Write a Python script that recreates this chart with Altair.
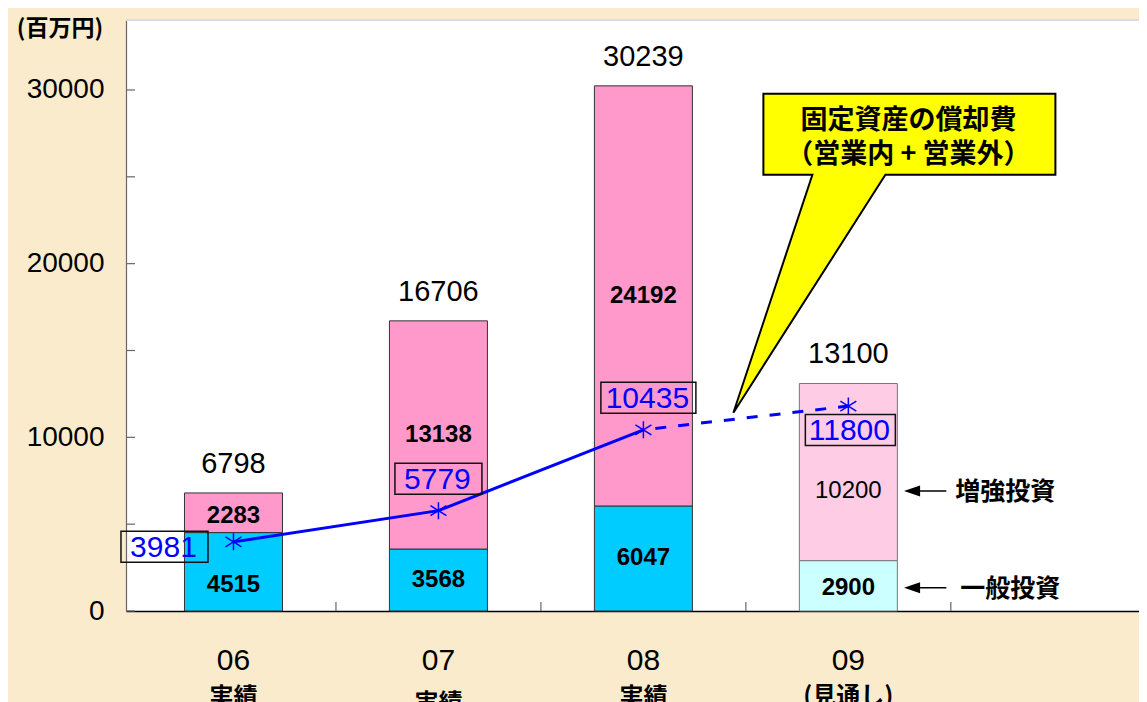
import altair as alt
import pandas as pd

# ---------------- data ----------------
years = ["06", "07", "08", "09"]
sub_labels = ["実績", "実績", "実績", "(見通し)"]
general = [4515, 3568, 6047, 2900]        # 一般投資
enhance = [2283, 13138, 24192, 10200]     # 増強投資
totals = [6798, 16706, 30239, 13100]
deprec = [3981, 5779, 10435, 11800]       # 固定資産の償却費
y_tick_values = [0, 5000, 10000, 15000, 20000, 25000, 30000]
y_label_values = [0, 10000, 20000, 30000]
x_boundaries = [1, 2, 3, 4]

# ---------------- styles ----------------
gen_colors = ["#00CCFF", "#00CCFF", "#00CCFF", "#CCFFFF"]
enh_colors = ["#FF99CC", "#FF99CC", "#FF99CC", "#FFCCE6"]
bar_strokes = ["#333333", "#333333", "#333333", "#777777"]
gen_dy = [13, 0, 0, 2]
enh_dy = [3, 0, 0, 19]
dep_dx = [-69, 0, 5, 2]
dep_dy = [5, -32, -32, 24]
dep_box_w = [87, 87, 95, 90]
sub_dy = [0, 6, 0, -1]

W, H = 1013, 591
BAND_PX = 207
XMAX = W / BAND_PX
YMAX = 34030
BLUE = "#0000FF"
NUM_FONT = "Liberation Sans"
CJK_FONT = "Noto Sans CJK JP"

df = pd.DataFrame({
    "idx": list(range(len(years))),
    "year": years,
    "sub": sub_labels,
    "general": general,
    "enhance": enhance,
    "total": totals,
    "deprec": deprec,
    "gcol": gen_colors,
    "ecol": enh_colors,
    "scol": bar_strokes,
})
df["pos"] = df["idx"] + 0.5
df["zero"] = 0
df["gmid"] = df["general"] / 2
df["emid"] = df["general"] + df["enhance"] / 2

xs = alt.Scale(domain=[0, XMAX], nice=False, zero=False)
ys = alt.Scale(domain=[0, YMAX], nice=False)
X = alt.X("pos:Q", scale=xs, axis=alt.Axis(labels=False, ticks=False, grid=False, title=None,
                                              domainColor="#000000", domainWidth=1.5))
Y_AXIS = alt.Axis(values=y_label_values, ticks=False, grid=False, title=None,
                  domainColor="#666666", domainWidth=1.2, labelFontSize=28, labelFont=NUM_FONT,
                  labelColor="#000000", labelPadding=22, format="d")

base = alt.Chart(df)

gen_bar = base.mark_bar(size=98, strokeWidth=1).encode(
    x=X,
    y=alt.Y("general:Q", scale=ys, axis=Y_AXIS),
    y2="zero:Q",
    color=alt.Color("gcol:N", scale=None),
    stroke=alt.Stroke("scol:N", scale=None),
)
enh_bar = base.mark_bar(size=98, strokeWidth=1).encode(
    x=X,
    y=alt.Y("total:Q", scale=ys, axis=Y_AXIS),
    y2="general:Q",
    color=alt.Color("ecol:N", scale=None),
    stroke=alt.Stroke("scol:N", scale=None),
)

layers = [gen_bar, enh_bar]

# inward ticks on axes
yt = alt.Chart(pd.DataFrame({"v": y_tick_values})).mark_rule(color="#666666", strokeWidth=1.2).encode(
    y=alt.Y("v:Q", scale=ys, axis=Y_AXIS), x=alt.value(0), x2=alt.value(9))
xt = alt.Chart(pd.DataFrame({"b": x_boundaries})).mark_rule(color="#666666", strokeWidth=1.2).encode(
    x=alt.X("b:Q", scale=xs, axis=alt.Axis(labels=False, ticks=False, grid=False, title=None,
                                            domainColor="#000000", domainWidth=1.5)),
    y=alt.value(H - 9), y2=alt.value(H))
top_border = alt.Chart(df).mark_rule(color="#dddddd", strokeWidth=1.5).encode(
    x=alt.value(0), x2=alt.value(W), y=alt.value(0))
layers += [yt, xt, top_border]

# segment & total labels
for i in range(len(years)):
    row = base.transform_filter(alt.datum.idx == i)
    layers.append(row.mark_text(fontSize=24, fontWeight="bold", font=NUM_FONT, color="#000000",
                                baseline="middle", dy=gen_dy[i]).encode(
        x=X, y=alt.Y("gmid:Q", scale=ys, axis=Y_AXIS), text="general:Q"))
    layers.append(row.mark_text(fontSize=24, fontWeight="normal" if i == 3 else "bold", font=NUM_FONT,
                                color="#000000", baseline="middle", dy=enh_dy[i]).encode(
        x=X, y=alt.Y("emid:Q", scale=ys, axis=Y_AXIS), text="enhance:Q"))

layers.append(base.mark_text(fontSize=29, font=NUM_FONT, color="#000000", baseline="middle", dy=-29).encode(
    x=X, y=alt.Y("total:Q", scale=ys, axis=Y_AXIS), text="total:Q"))

# depreciation line
solid = base.transform_filter(alt.datum.idx <= 2).mark_line(color=BLUE, strokeWidth=3).encode(
    x=X, y=alt.Y("deprec:Q", scale=ys, axis=Y_AXIS))
dashed = base.transform_filter(alt.datum.idx >= 2).mark_line(
    color=BLUE, strokeWidth=3, strokeDash=[11, 12], strokeDashOffset=-12).encode(
    x=X, y=alt.Y("deprec:Q", scale=ys, axis=Y_AXIS))
ASTERISK = "M0,-8.5L0,8.5M-8,-5L8,5M-8,5L8,-5"
stars = base.mark_point(shape=ASTERISK, size=4, filled=False, color=BLUE, strokeWidth=1.5, opacity=1).encode(
    x=X, y=alt.Y("deprec:Q", scale=ys, axis=Y_AXIS))
layers += [solid, dashed, stars]

# depreciation value labels with boxes
for i in range(len(years)):
    row = base.transform_filter(alt.datum.idx == i)
    dx, dy, w, h = dep_dx[i], dep_dy[i], dep_box_w[i], 31
    box = (f"M{dx - w / 2},{dy - h / 2}L{dx + w / 2},{dy - h / 2}"
           f"L{dx + w / 2},{dy + h / 2}L{dx - w / 2},{dy + h / 2}Z")
    layers.append(row.mark_point(shape=box, size=4, filled=False, color="#111111", strokeWidth=1.5,
                                 opacity=1).encode(x=X, y=alt.Y("deprec:Q", scale=ys, axis=Y_AXIS)))
    layers.append(row.mark_text(fontSize=30, font=NUM_FONT, color=BLUE, baseline="middle",
                                dx=dx - 1, dy=dy + 1).encode(
        x=X, y=alt.Y("deprec:Q", scale=ys, axis=Y_AXIS), text="deprec:Q"))

# callout anchored to the 08 depreciation point
CALLOUT = "M120,-336L412,-336L412,-255L242,-255L90,-17L169,-255L120,-255Z"
anchor = base.transform_filter(alt.datum.idx == 2)
layers.append(anchor.mark_point(shape=CALLOUT, size=4, filled=True, fill="#FFFF00", stroke="#000000",
                                strokeWidth=2, opacity=1, fillOpacity=1).encode(
    x=X, y=alt.Y("deprec:Q", scale=ys, axis=Y_AXIS)))
layers.append(anchor.mark_text(text="固定資産の償却費", fontSize=27, fontWeight="bold", font=CJK_FONT,
                               color="#000000", baseline="middle", dx=265, dy=-309).encode(
    x=X, y=alt.Y("deprec:Q", scale=ys, axis=Y_AXIS)))
layers.append(anchor.mark_text(text="（営業内 + 営業外）", fontSize=27, fontWeight="bold", font=CJK_FONT,
                               color="#000000", baseline="middle", dx=265, dy=-275).encode(
    x=X, y=alt.Y("deprec:Q", scale=ys, axis=Y_AXIS)))


# arrows with legend texts next to the 09 bar
def arrow(dy):
    return f"M60,{dy}L98,{dy}M58,{dy}L71,{dy - 4.5}L71,{dy + 4.5}Z"


last = base.transform_filter(alt.datum.idx == 3)
layers.append(last.mark_point(shape=arrow(enh_dy[3]), size=4, filled=True, fill="#000000",
                              stroke="#000000", strokeWidth=1.5, opacity=1).encode(
    x=X, y=alt.Y("emid:Q", scale=ys, axis=Y_AXIS)))
layers.append(last.mark_point(shape=arrow(gen_dy[3]), size=4, filled=True, fill="#000000",
                              stroke="#000000", strokeWidth=1.5, opacity=1).encode(
    x=X, y=alt.Y("gmid:Q", scale=ys, axis=Y_AXIS)))
layers.append(last.mark_text(text="増強投資", fontSize=25, fontWeight="bold", font=CJK_FONT, color="#000000",
                             baseline="middle", dx=157, dy=enh_dy[3] + 1).encode(
    x=X, y=alt.Y("emid:Q", scale=ys, axis=Y_AXIS)))
layers.append(last.mark_text(text="一般投資", fontSize=25, fontWeight="bold", font=CJK_FONT, color="#000000",
                             baseline="middle", dx=162, dy=gen_dy[3] + 1).encode(
    x=X, y=alt.Y("gmid:Q", scale=ys, axis=Y_AXIS)))

# category labels below the axis
layers.append(base.mark_text(fontSize=30, font=NUM_FONT, color="#000000",
                             baseline="middle").encode(x=X, y=alt.value(H + 50), text="year:N"))
for i in range(len(years)):
    row = base.transform_filter(alt.datum.idx == i)
    layers.append(row.mark_text(fontSize=24, fontWeight="bold", font=CJK_FONT, color="#000000",
                                baseline="middle").encode(x=X, y=alt.value(H + 87 + sub_dy[i]), text="sub:N"))

# unit label
layers.append(alt.Chart(df).transform_filter(alt.datum.idx == 0).mark_text(
    text="(百万円)", fontSize=23, fontWeight="bold", font=CJK_FONT, color="#000000", baseline="middle").encode(
    x=alt.value(-66), y=alt.value(9)))

chart = alt.layer(*layers).properties(
    width=W, height=H,
    autosize=alt.AutoSizeParams(type="none"),
    padding={"left": 118, "top": 12, "right": 0, "bottom": 91},
    background="#FAEBCD",
).configure_view(fill="#FFFFFF", stroke=None)

chart.save("out.html", embed_options={"renderer": "svg", "actions": False})
